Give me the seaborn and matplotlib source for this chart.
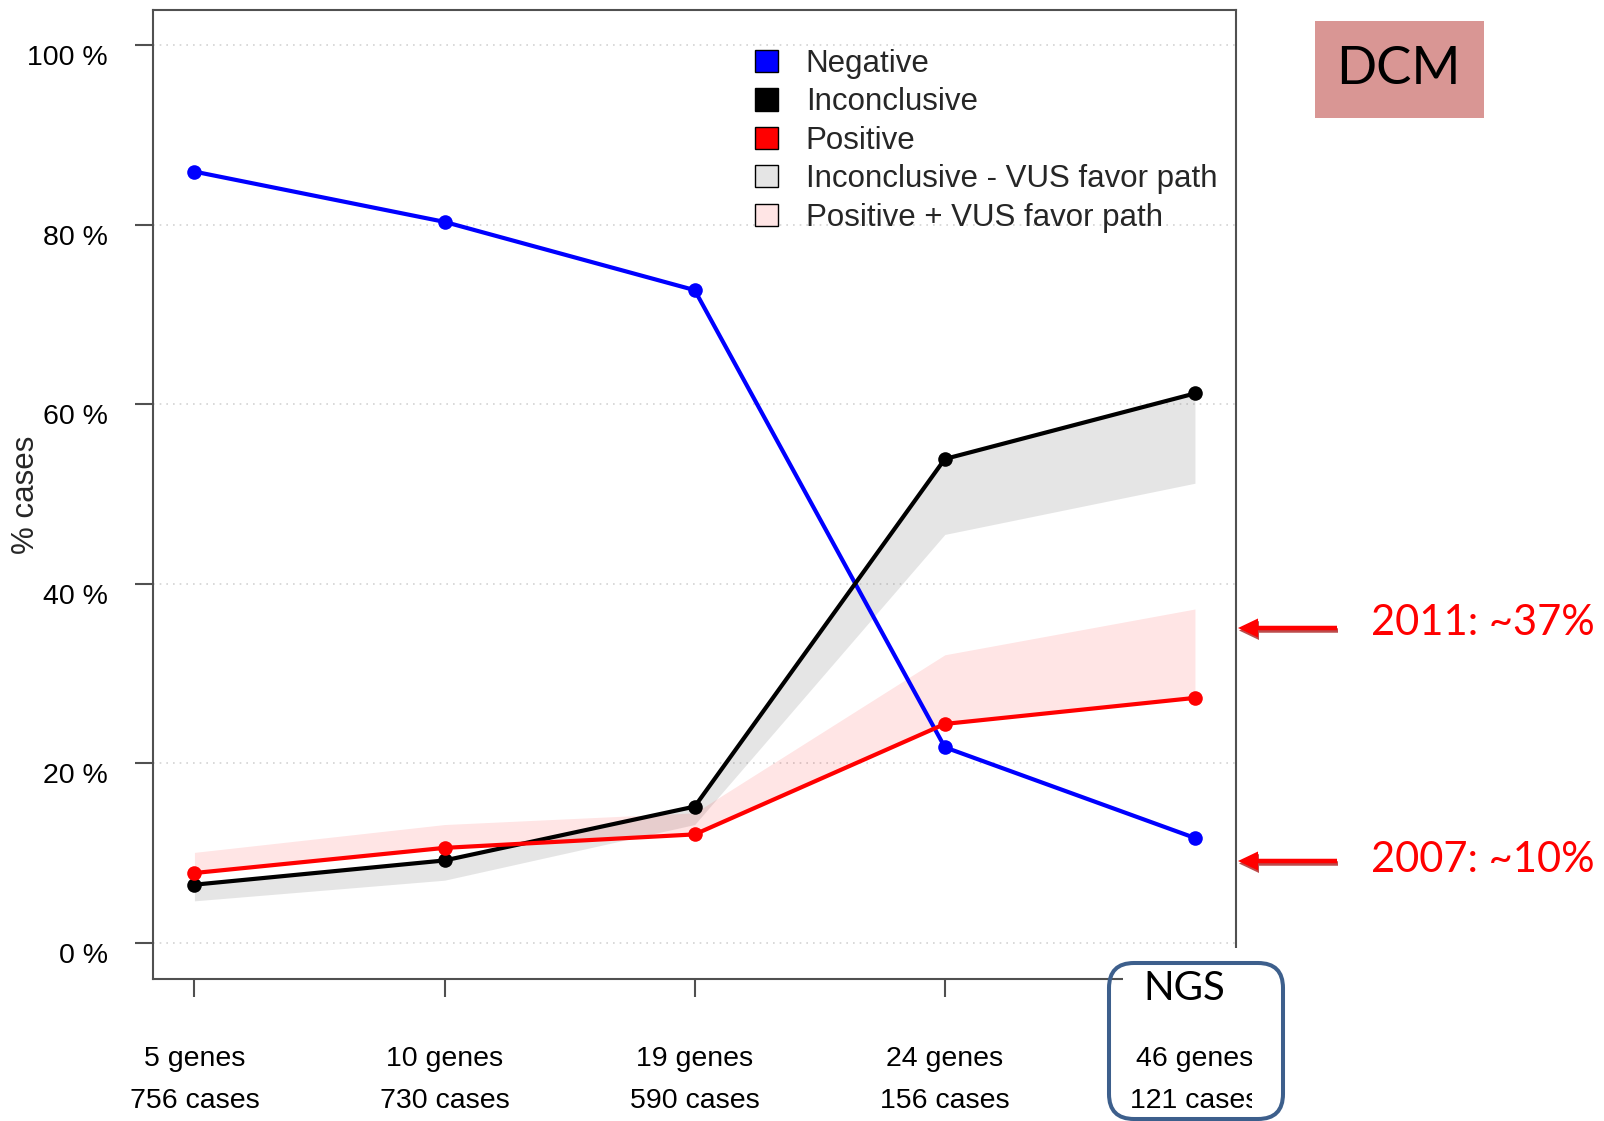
import numpy as np
import pandas as pd
import matplotlib
matplotlib.use("Agg")
import matplotlib.pyplot as plt
import matplotlib.transforms as mtransforms
from matplotlib.patches import Patch, Rectangle, FancyBboxPatch, FancyArrow, Polygon
import seaborn as sns

# Panel sizes per test generation
genes = [5, 10, 19, 24, 46]
cases = [756, 730, 590, 156, 121]

# Percent of cases per outcome
negative = [85.9, 80.3, 72.7, 21.8, 11.7]
inconclusive = [6.5, 9.2, 15.2, 53.9, 61.2]
positive = [7.8, 10.6, 12.1, 24.4, 27.3]
inconclusive_minus_vus = [4.7, 7.0, 13.2, 45.5, 51.2]
positive_plus_vus = [10.1, 13.2, 14.5, 32.1, 37.2]

y_ticks = [0, 20, 40, 60, 80, 100]
x_labels = [f"{g} genes\n{c} cases" for g, c in zip(genes, cases)]

sns.set_style("white")
plt.rcParams["font.family"] = ["Liberation Sans", "DejaVu Sans"]

W, H = 1604, 1121
FS_TICK = 20.5
FS = 22.5
fig = plt.figure(figsize=(W / 100, H / 100), dpi=100)
ax = fig.add_axes([153.4 / W, 142 / H, 1082.6 / W, 968.8 / H])

x = np.arange(len(genes))

# shaded ranges for VUS "favor pathogenic"
ax.fill_between(x, inconclusive_minus_vus, inconclusive, color=(0.5, 0.5, 0.5),
                alpha=0.2, lw=0, zorder=1)
ax.fill_between(x, positive, positive_plus_vus, color=(1.0, 0.0, 0.0),
                alpha=0.1, lw=0, zorder=1)

df = pd.DataFrame({
    "pos": np.tile(x, 3),
    "pct": negative + inconclusive + positive,
    "result": ["Negative"] * 5 + ["Inconclusive"] * 5 + ["Positive"] * 5,
})
palette = {"Negative": "#0000FF", "Inconclusive": "#000000", "Positive": "#FF0000"}
sns.lineplot(data=df, x="pos", y="pct", hue="result", palette=palette,
             marker="o", markersize=10.5, markeredgewidth=0, linewidth=3.0,
             legend=False, ax=ax, zorder=3)

ax.set_xlim(-0.164, 4.164)
ax.set_ylim(-4, 103.87)
ax.set_xticks(x, labels=x_labels)
ax.set_yticks(y_ticks, labels=[f"{v} %" for v in y_ticks])
ax.set_xlabel("")
ax.set_ylabel("% cases", fontsize=FS)
ax.yaxis.set_label_coords(-0.104, 0.5)

ax.yaxis.grid(True, color="#D3D3D3", lw=1.2, ls=(0, (1, 3)))
ax.set_axisbelow(True)

for s in ax.spines.values():
    s.set_visible(True)
    s.set_color("#505050")
    s.set_linewidth(1.5)

ax.tick_params(axis="both", which="major", direction="out", length=13, width=1.5,
               color="#505050", labelsize=FS_TICK, labelcolor="black",
               bottom=True, left=True)
ax.tick_params(axis="y", pad=20)
ax.tick_params(axis="x", pad=35)

for lbl in ax.get_xticklabels():
    lbl.set_linespacing(1.83)
shift = mtransforms.ScaledTranslation(0, -0.13, fig.dpi_scale_trans)
for lbl in ax.get_yticklabels():
    lbl.set_va("center")
    lbl.set_transform(lbl.get_transform() + shift)

handles = [
    Patch(facecolor="#0000FF", edgecolor="black", lw=1),
    Patch(facecolor="#000000", edgecolor="black", lw=1),
    Patch(facecolor="#FF0000", edgecolor="black", lw=1),
    Patch(facecolor="#E5E5E5", edgecolor="black", lw=1),
    Patch(facecolor="#FFE5E5", edgecolor="black", lw=1),
]
labels = ["Negative", "Inconclusive", "Positive",
          "Inconclusive - VUS favor path", "Positive + VUS favor path"]
ax.legend(handles, labels, loc="upper left", bbox_to_anchor=(0.5557, 0.960),
          frameon=False, borderpad=0, borderaxespad=0, handlelength=0.72,
          handleheight=0.72, handletextpad=0.9, labelspacing=0.27, fontsize=FS)


def fx(px):
    return px / W


def fy(py):
    return 1 - py / H


# white overlay behind the NGS callout
cover = Polygon([(fx(1123), fy(948)), (fx(1283), fy(948)), (fx(1283), fy(1121)),
                 (fx(1252), fy(1121)), (fx(1252), fy(1030)), (fx(1123), fy(1030))],
                closed=True, facecolor="white", edgecolor="none",
                transform=fig.transFigure, zorder=2)
fig.add_artist(cover)

inch = fig.dpi_scale_trans
ngs = FancyBboxPatch((11.09, (H - 1119) / 100), 1.74, 1.56,
                     boxstyle="round,pad=0,rounding_size=0.25",
                     facecolor="none", edgecolor="#3D5F8C", lw=2.9,
                     transform=inch, zorder=3)
fig.add_artist(ngs)
fig.text(fx(1184), fy(988), "NGS", ha="center", va="center", fontsize=29,
         family=["Lato", "DejaVu Sans"], color="black", zorder=4)

dcm = Rectangle((13.15, (H - 118) / 100), 1.69, 0.97, facecolor="#D99694",
                edgecolor="none", transform=inch, zorder=3)
fig.add_artist(dcm)
fig.text(fx(1398), fy(69.5), "DCM", ha="center", va="center", fontsize=38,
         family=["Lato", "DejaVu Sans"], color="black", zorder=4)

for ypx, txt, tpx in [(628, "2011: ~37%", 623), (861, "2007: ~10%", 860)]:
    yy = (H - ypx) / 100
    shadow = FancyArrow(13.38, yy - 0.025, -0.99, 0, width=0.045, head_width=0.19,
                        head_length=0.2, length_includes_head=True,
                        facecolor="#A00000", edgecolor="none", alpha=0.7,
                        transform=inch, zorder=3)
    fig.add_artist(shadow)
    arrow = FancyArrow(13.37, yy, -0.99, 0, width=0.045, head_width=0.19,
                       head_length=0.2, length_includes_head=True,
                       facecolor="#FF0000", edgecolor="none",
                       transform=inch, zorder=4)
    fig.add_artist(arrow)
    fig.text(fx(1371), fy(tpx), txt, ha="left", va="center", fontsize=30,
             family=["Lato", "DejaVu Sans"], color="#FF0000", zorder=4)

fig.savefig("out.png", dpi=100)
